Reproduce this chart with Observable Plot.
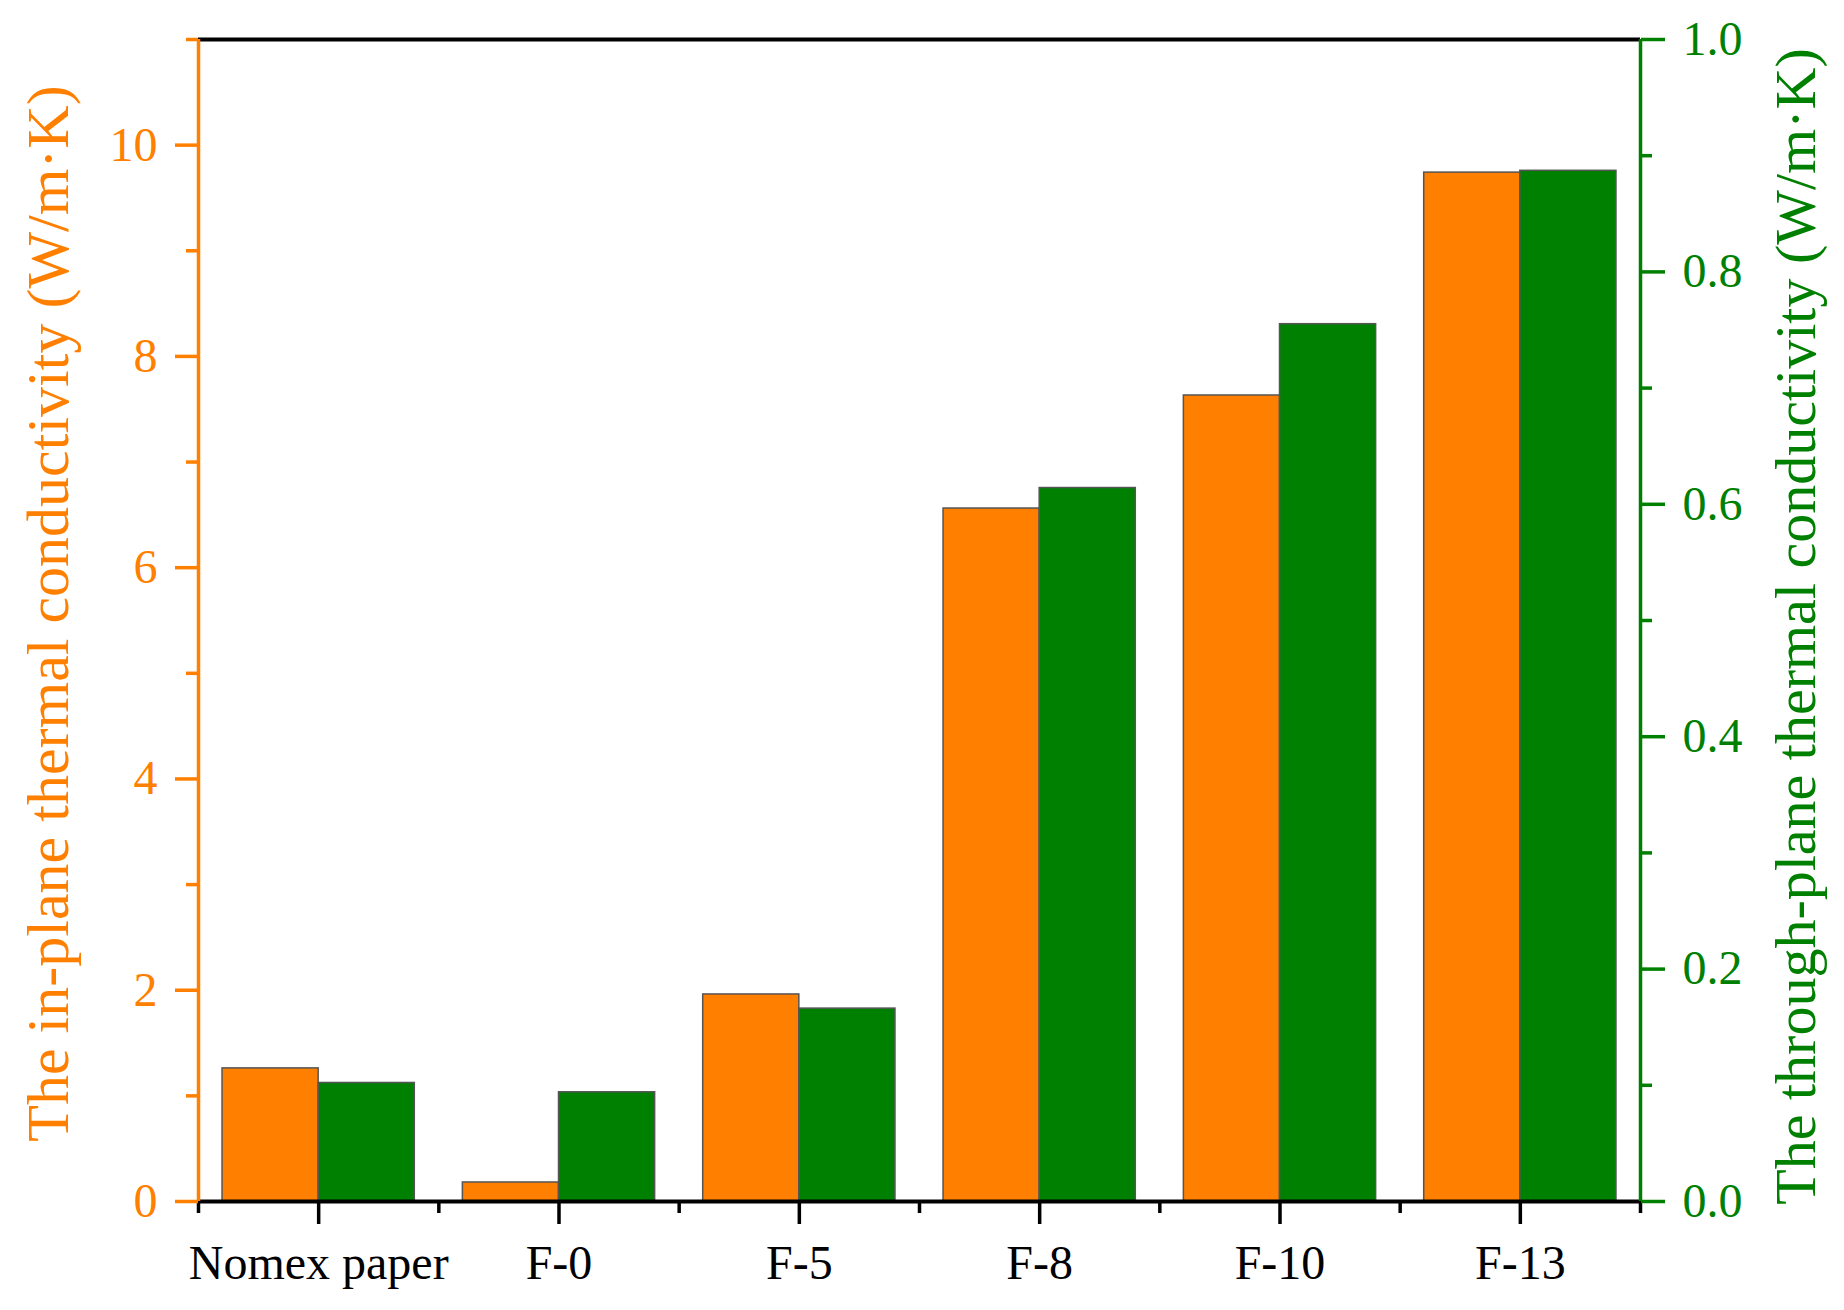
<!DOCTYPE html>
<html>
<head>
<meta charset="utf-8">
<script src="https://cdn.jsdelivr.net/npm/d3@7"></script>
<script src="https://cdn.jsdelivr.net/npm/@observablehq/plot@0.6"></script>
<style>
  html, body { margin: 0; padding: 0; background: white; }
</style>
</head>
<body>
<div id="chart"></div>
<script>
// ---- data ----
const categories = ["Nomex paper", "F-0", "F-5", "F-8", "F-10", "F-13"];
const inPlane = [1.26, 0.18, 1.96, 6.56, 7.63, 9.74];          // W/m·K, left axis
const throughPlane = [0.102, 0.094, 0.166, 0.614, 0.755, 0.887]; // W/m·K, right axis
const leftMajorTicks = [0, 2, 4, 6, 8, 10];
const leftMinorTicks = [1, 3, 5, 7, 9, 11];
const rightMajorTicks = [0.0, 0.2, 0.4, 0.6, 0.8, 1.0];
const rightMinorTicks = [0.1, 0.3, 0.5, 0.7, 0.9];
const leftTitle = "The in-plane thermal conductivity (W/m·K)";
const rightTitle = "The through-plane thermal conductivity (W/m·K)";

// ---- styling ----
const ORANGE = "#FF7F00";
const GREEN = "#008000";
const FONT = "'Liberation Serif', 'Times New Roman', serif";

// left domain [0, 11] shares pixels with right domain [0, 1]
const leftMax = 11, rightMax = 1;
const rightToLeft = d3.scaleLinear([0, rightMax], [0, leftMax]);

const catIndex = categories.map((c, i) => i);
const table = categories.flatMap((c, i) => [
  {cat: c, i, series: "in-plane", v: inPlane[i]},
  {cat: c, i, series: "through-plane", v: rightToLeft(throughPlane[i])}
]);
const halfWidth = 0.4; // each bar's share of a category slot
const boundaries = d3.range(categories.length + 1).map(k => k - 0.5);

const chart = Plot.plot({
  width: 1844,
  height: 1310,
  marginLeft: 198,
  marginRight: 204,
  marginTop: 39,
  marginBottom: 109,
  style: {fontFamily: FONT, fontSize: "48px", background: "white"},
  x: {domain: [-0.5, categories.length - 0.5], axis: null},
  y: {domain: [0, leftMax], axis: null},
  color: {domain: ["in-plane", "through-plane"], range: [ORANGE, GREEN]},
  marks: [
    Plot.rect(table, {
      x1: d => d.series === "in-plane" ? d.i - halfWidth : d.i,
      x2: d => d.series === "in-plane" ? d.i : d.i + halfWidth,
      y1: 0,
      y2: "v",
      fill: "series",
      stroke: "#555555",
      strokeWidth: 1.5
    }),
    // bottom axis: category ticks and boundary ticks
    Plot.axisX({anchor: "bottom", ticks: catIndex, tickFormat: i => categories[i],
      tickSize: 23, tickPadding: 20, strokeWidth: 3.5, color: "black", label: null, fontSize: 48}),
    Plot.axisX({anchor: "bottom", ticks: boundaries, tickFormat: () => "",
      tickSize: 12, strokeWidth: 3.5, color: "black", label: null}),
    // left axis
    Plot.axisY({anchor: "left", ticks: leftMajorTicks, tickSize: 23, tickPadding: 18,
      strokeWidth: 3.5, color: ORANGE, label: null, fontSize: 48}),
    Plot.axisY({anchor: "left", ticks: leftMinorTicks, tickSize: 12, tickFormat: () => "",
      strokeWidth: 3.5, color: ORANGE, label: null}),
    // right axis
    Plot.axisY({anchor: "right", ticks: rightMajorTicks.map(rightToLeft),
      tickFormat: d => d3.format(".1f")(rightToLeft.invert(d)),
      tickSize: 24, tickPadding: 18, strokeWidth: 3.5, color: GREEN, label: null, fontSize: 48}),
    Plot.axisY({anchor: "right", ticks: rightMinorTicks.map(rightToLeft), tickFormat: () => "",
      tickSize: 11, strokeWidth: 3.5, color: GREEN, label: null}),
    // frame lines
    Plot.ruleY([0], {stroke: "black", strokeWidth: 4}),
    Plot.ruleY([leftMax], {stroke: "black", strokeWidth: 4}),
    Plot.ruleX([-0.5], {stroke: ORANGE, strokeWidth: 3.5}),
    Plot.ruleX([categories.length - 0.5], {stroke: GREEN, strokeWidth: 3.5}),
    // axis titles
    Plot.text([leftTitle], {frameAnchor: "left", textAnchor: "middle", lineAnchor: "middle",
      dx: -150, dy: -7, rotate: -90, fill: ORANGE, fontSize: 60, text: d => d}),
    Plot.text([rightTitle], {frameAnchor: "right", textAnchor: "middle", lineAnchor: "middle",
      dx: 156, dy: 6, rotate: -90, fill: GREEN, fontSize: 58, text: d => d})
  ]
});
document.getElementById("chart").appendChild(chart);
</script>
</body>
</html>
